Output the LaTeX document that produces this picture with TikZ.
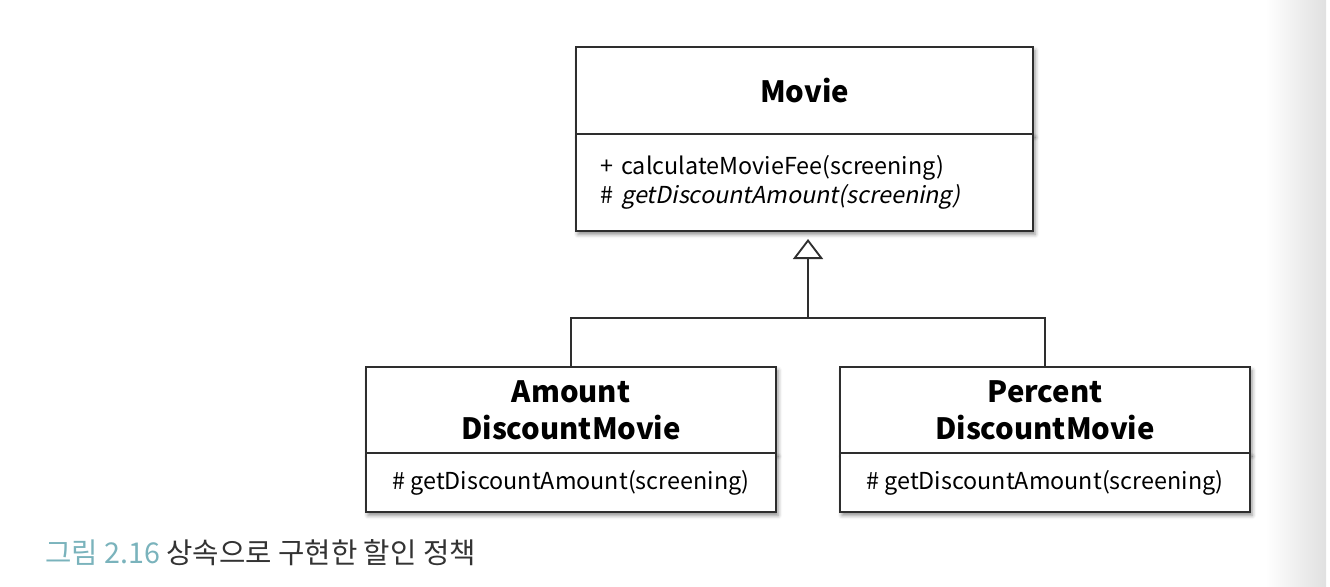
\documentclass[tikz,border=0pt]{standalone}
\usepackage{fontspec}
\setmainfont{Noto Sans CJK KR}
\newfontfamily\slantfont{Noto Sans CJK KR}[FakeSlant=0.2]
\usetikzlibrary{positioning,arrows.meta,shadows.blur}
\definecolor{umlline}{HTML}{2E2E2E}
\definecolor{capteal}{HTML}{7AB3BC}
\definecolor{captext}{HTML}{333333}
\tikzset{
  umlbox/.style={draw=umlline, line width=1.4pt, fill=white, inner sep=0pt, outer sep=0pt,
    blur shadow={shadow xshift=1.5pt, shadow yshift=-2.5pt, shadow blur radius=3pt, shadow opacity=45}},
  titlebox/.style={umlbox, align=center, font=\bfseries\fontsize{22}{27.75}\selectfont},
  opsbox/.style={umlbox, font=\fontsize{17.5}{21.75}\selectfont},
  umledge/.style={draw=umlline, line width=1.4pt},
}
\begin{document}
\begin{tikzpicture}[x=0.75pt, y=-0.75pt]
\useasboundingbox (0,0) rectangle (1330,586);
\shade[left color=white, right color=black!12] (1265,0) rectangle (1326,586);
\node[titlebox, minimum width=342.75pt, minimum height=65.25pt] (movie) at (804.5,90.5) {Movie};
\node[opsbox, below=0pt of movie, minimum width=342.75pt, minimum height=72.75pt, text width=306pt, align=left] (movieops)
  {+ calculateMovieFee(screening)\\\# {\slantfont getDiscountAmount(screening)}};
\foreach \n/\x/\t in {amount/571/Amount, percent/1045/Percent}{
  \node[titlebox, minimum width=307.5pt, minimum height=64.5pt] (\n) at (\x,410) {\t\\DiscountMovie};
  \node[opsbox, below=0pt of \n, minimum width=307.5pt, minimum height=44.25pt] (\n ops) {\# getDiscountAmount(screening)};
}
\coordinate (join) at (808,318);
\draw[umledge] (amount) |- (join) -| (percent);
\draw[umledge, -{Triangle[open, width=22.5pt, length=15pt]}, shorten >=6pt] (join) -- (join |- movieops.south);
\node[anchor=west, inner sep=0pt, text=captext, font=\fontsize{21.5}{26}\selectfont] (caption) at (45,553)
  {\textcolor{capteal}{그림 2.16} 상속으로 구현한 할인 정책};
\end{tikzpicture}
\end{document}
